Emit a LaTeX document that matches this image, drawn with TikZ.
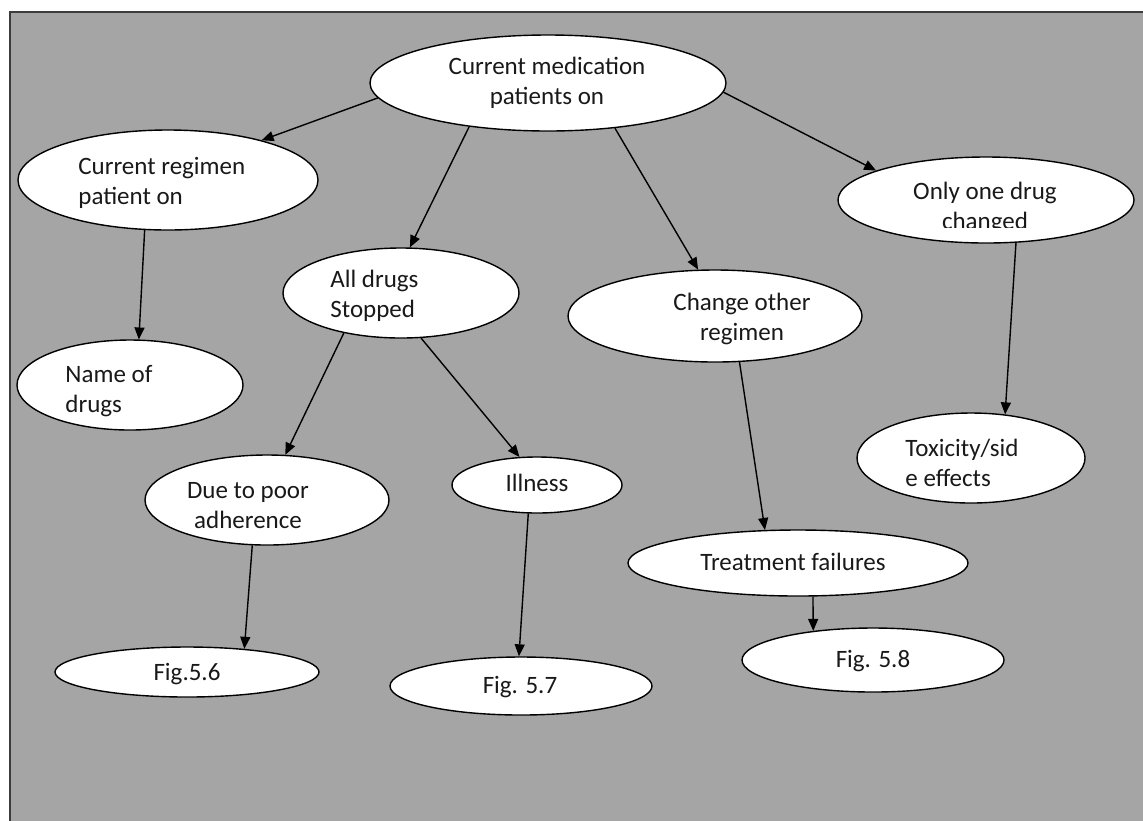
\documentclass[tikz,border=0pt]{standalone}
\usepackage{fontspec}
\setmainfont{Carlito}
\usetikzlibrary{arrows.meta,shapes.geometric}
\definecolor{bggray}{HTML}{A5A5A5}
\definecolor{framegray}{HTML}{3C3C3C}
\tikzset{
  oval/.style={ellipse, draw=black, fill=white, line width=0.7pt, inner sep=0pt},
  txt/.style={font=\fontsize{12.5}{15}\selectfont, align=left, inner sep=0pt, text=black!90},
  arr/.style={-{Triangle[length=6pt,width=5pt]}, line width=0.7pt},
}
\begin{document}
\begin{tikzpicture}[x=0.5pt,y=-0.5pt]
\useasboundingbox (0,0) rectangle (1143,820);
% background and frame
\begin{scope}
\clip (0,0) rectangle (1143,820);
\fill[white] (0,0) rectangle (1143,820);
\fill[bggray] (10,12) rectangle (1150,830);
\draw[framegray, line width=1pt] (10,830) -- (10,12) -- (1150,12);
\end{scope}
% ellipses
\node[oval, minimum width=178pt, minimum height=48pt] (med) at (548,83) {};
\node[oval, minimum width=150pt, minimum height=50pt] (regimen) at (168,180) {};
\node[oval, minimum width=113pt, minimum height=45pt] (names) at (130,385) {};
\node[oval, minimum width=118pt, minimum height=45pt] (stopped) at (401,293) {};
\node[oval, minimum width=147pt, minimum height=46pt] (other) at (715,316) {};
\node[oval, minimum width=148pt, minimum height=43pt] (onedrug) at (986,200) {};
\node[oval, minimum width=122pt, minimum height=45pt] (adherence) at (267,500) {};
\node[oval, minimum width=85pt, minimum height=28pt] (illness) at (537,485) {};
\node[oval, minimum width=170pt, minimum height=33pt] (failure) at (798,563) {};
\node[oval, minimum width=114pt, minimum height=45pt] (toxic) at (971,458) {};
\node[oval, minimum width=132pt, minimum height=25pt] (figA) at (187,672) {};
\node[oval, minimum width=131pt, minimum height=29pt] (figB) at (521,686) {};
\node[oval, minimum width=131pt, minimum height=32pt] (figC) at (873,660) {};
% texts
\node[txt, align=center] (medt) at (547,83) {Current medication\\patients on};
\node[txt, anchor=west] (regiment) at (78,183) {Current regimen\\patient on};
\node[txt, anchor=west] (namest) at (65,391) {Name of\\drugs};
\node[txt, anchor=west] (stoppedt) at (330,296) {All drugs\\Stopped};
\node[txt, align=center] (othert) at (742,319) {Change other\\regimen};
\begin{scope}
\clip (880,170) rectangle (1090,227);
\node[txt, align=center] (onedrugt) at (985,208) {Only one drug\\changed};
\end{scope}
\node[txt, align=center] (adherencet) at (248,506) {Due to poor\\adherence};
\node[txt] (illnesst) at (537,483) {Illness};
\node[txt] (failuret) at (793,562) {Treatment failures};
\node[txt, anchor=west] (toxict) at (905,463) {Toxicity/sid\\e effects};
\node[txt] (figAt) at (187,674) {Fig.5.6};
\node[txt] (figBt) at (520,687) {Fig. 5.7};
\node[txt] (figCt) at (873,661) {Fig. 5.8};
% arrows
\draw[arr] (med.185.6) -- (regimen.23);
\draw[arr] (med.209) -- (stopped.79.8);
\draw[arr] (med.326) -- (other.110.3);
\draw[arr] (med.357.8) -- (onedrug.165.8);
\draw[arr] (regimen.245.3) -- (names.79.9);
\draw[arr] (onedrug.305.8) -- (toxic.52.9);
\draw[arr] (stopped.215.9) -- (adherence.68.2);
\draw[arr] (stopped.294.1) -- (illness.122.3);
\draw[arr] (other.298.5) -- (failure.135);
\draw[arr] (adherence.252.6) -- (figA.22);
\draw[arr] (illness.253.3) -- (figB.94);
\draw[arr] (failure.294.4) -- (figC.154.7);
\end{tikzpicture}
\end{document}
